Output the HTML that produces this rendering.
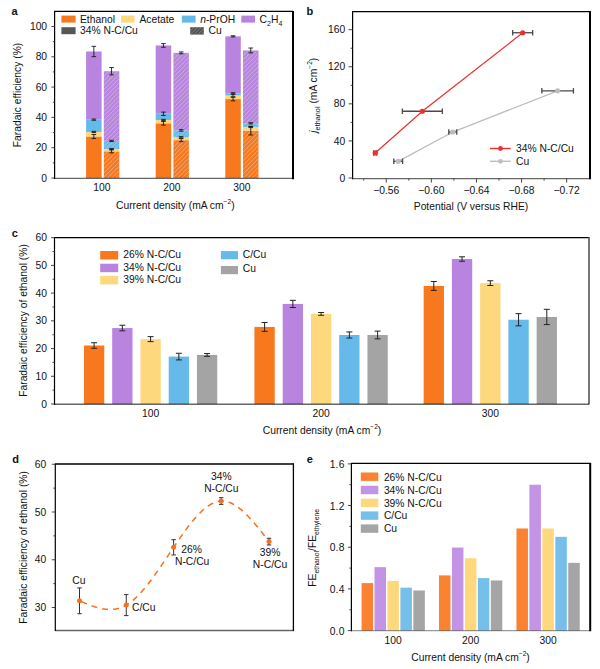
<!DOCTYPE html>
<html><head><meta charset="utf-8"><title>Figure</title>
<style>
html,body{margin:0;padding:0;background:#fff;overflow:hidden;}
svg{display:block;}
text{font-family:"Liberation Sans",Arial,sans-serif;fill:#111;}
</style></head><body>
<svg width="600" height="669" viewBox="0 0 600 669">
<defs>
<pattern id="hatch" patternUnits="userSpaceOnUse" width="3.1" height="3.1" patternTransform="rotate(45)">
<line x1="0" y1="0" x2="0" y2="3.1" stroke="#d8d8d8" stroke-opacity="0.85" stroke-width="0.9"/>
</pattern>
<pattern id="hatch2" patternUnits="userSpaceOnUse" width="2.6" height="2.6" patternTransform="rotate(45)">
<line x1="0" y1="0" x2="0" y2="2.6" stroke="#b0b0b0" stroke-opacity="0.8" stroke-width="1"/>
</pattern>
</defs>
<rect x="86.1" y="136.49" width="15.5" height="41.51" fill="#f8781d" />
<rect x="86.1" y="131.94" width="15.5" height="4.54" fill="#fdd87c" />
<rect x="86.1" y="119.67" width="15.5" height="12.27" fill="#66bae9" />
<rect x="86.1" y="51.5" width="15.5" height="68.18" fill="#b884df" />
<line x1="93.85" y1="134.52" x2="93.85" y2="138.46" stroke="#1a1a1a" stroke-width="0.9" />
<line x1="91.55" y1="134.52" x2="96.15" y2="134.52" stroke="#1a1a1a" stroke-width="0.9" />
<line x1="91.55" y1="138.46" x2="96.15" y2="138.46" stroke="#1a1a1a" stroke-width="0.9" />
<line x1="93.85" y1="131.34" x2="93.85" y2="132.55" stroke="#1a1a1a" stroke-width="0.9" />
<line x1="91.55" y1="131.34" x2="96.15" y2="131.34" stroke="#1a1a1a" stroke-width="0.9" />
<line x1="91.55" y1="132.55" x2="96.15" y2="132.55" stroke="#1a1a1a" stroke-width="0.9" />
<line x1="93.85" y1="119.07" x2="93.85" y2="120.28" stroke="#1a1a1a" stroke-width="0.9" />
<line x1="91.55" y1="119.07" x2="96.15" y2="119.07" stroke="#1a1a1a" stroke-width="0.9" />
<line x1="91.55" y1="120.28" x2="96.15" y2="120.28" stroke="#1a1a1a" stroke-width="0.9" />
<line x1="93.85" y1="46.35" x2="93.85" y2="56.65" stroke="#1a1a1a" stroke-width="0.9" />
<line x1="91.55" y1="46.35" x2="96.15" y2="46.35" stroke="#1a1a1a" stroke-width="0.9" />
<line x1="91.55" y1="56.65" x2="96.15" y2="56.65" stroke="#1a1a1a" stroke-width="0.9" />
<rect x="103.8" y="151.34" width="15.5" height="26.66" fill="#f8781d" />
<rect x="103.8" y="149.06" width="15.5" height="2.27" fill="#fdd87c" />
<rect x="103.8" y="140.88" width="15.5" height="8.18" fill="#66bae9" />
<rect x="103.8" y="71.19" width="15.5" height="69.69" fill="#b884df" />
<rect x="103.8" y="71.19" width="15.5" height="106.81" fill="url(#hatch)" />
<line x1="111.55" y1="149.82" x2="111.55" y2="152.85" stroke="#1a1a1a" stroke-width="0.9" />
<line x1="109.25" y1="149.82" x2="113.85" y2="149.82" stroke="#1a1a1a" stroke-width="0.9" />
<line x1="109.25" y1="152.85" x2="113.85" y2="152.85" stroke="#1a1a1a" stroke-width="0.9" />
<line x1="111.55" y1="148.46" x2="111.55" y2="149.67" stroke="#1a1a1a" stroke-width="0.9" />
<line x1="109.25" y1="148.46" x2="113.85" y2="148.46" stroke="#1a1a1a" stroke-width="0.9" />
<line x1="109.25" y1="149.67" x2="113.85" y2="149.67" stroke="#1a1a1a" stroke-width="0.9" />
<line x1="111.55" y1="140.28" x2="111.55" y2="141.49" stroke="#1a1a1a" stroke-width="0.9" />
<line x1="109.25" y1="140.28" x2="113.85" y2="140.28" stroke="#1a1a1a" stroke-width="0.9" />
<line x1="109.25" y1="141.49" x2="113.85" y2="141.49" stroke="#1a1a1a" stroke-width="0.9" />
<line x1="111.55" y1="67.56" x2="111.55" y2="74.83" stroke="#1a1a1a" stroke-width="0.9" />
<line x1="109.25" y1="67.56" x2="113.85" y2="67.56" stroke="#1a1a1a" stroke-width="0.9" />
<line x1="109.25" y1="74.83" x2="113.85" y2="74.83" stroke="#1a1a1a" stroke-width="0.9" />
<rect x="155.7" y="123.31" width="15.5" height="54.69" fill="#f8781d" />
<rect x="155.7" y="119.98" width="15.5" height="3.33" fill="#fdd87c" />
<rect x="155.7" y="113.76" width="15.5" height="6.21" fill="#66bae9" />
<rect x="155.7" y="45.44" width="15.5" height="68.33" fill="#b884df" />
<line x1="163.45" y1="121.49" x2="163.45" y2="125.13" stroke="#1a1a1a" stroke-width="0.9" />
<line x1="161.15" y1="121.49" x2="165.75" y2="121.49" stroke="#1a1a1a" stroke-width="0.9" />
<line x1="161.15" y1="125.13" x2="165.75" y2="125.13" stroke="#1a1a1a" stroke-width="0.9" />
<line x1="163.45" y1="119.37" x2="163.45" y2="120.58" stroke="#1a1a1a" stroke-width="0.9" />
<line x1="161.15" y1="119.37" x2="165.75" y2="119.37" stroke="#1a1a1a" stroke-width="0.9" />
<line x1="161.15" y1="120.58" x2="165.75" y2="120.58" stroke="#1a1a1a" stroke-width="0.9" />
<line x1="163.45" y1="112.1" x2="163.45" y2="115.43" stroke="#1a1a1a" stroke-width="0.9" />
<line x1="161.15" y1="112.1" x2="165.75" y2="112.1" stroke="#1a1a1a" stroke-width="0.9" />
<line x1="161.15" y1="115.43" x2="165.75" y2="115.43" stroke="#1a1a1a" stroke-width="0.9" />
<line x1="163.45" y1="43.62" x2="163.45" y2="47.26" stroke="#1a1a1a" stroke-width="0.9" />
<line x1="161.15" y1="43.62" x2="165.75" y2="43.62" stroke="#1a1a1a" stroke-width="0.9" />
<line x1="161.15" y1="47.26" x2="165.75" y2="47.26" stroke="#1a1a1a" stroke-width="0.9" />
<rect x="173.4" y="140.12" width="15.5" height="37.88" fill="#f8781d" />
<rect x="173.4" y="137.25" width="15.5" height="2.88" fill="#fdd87c" />
<rect x="173.4" y="130.43" width="15.5" height="6.82" fill="#66bae9" />
<rect x="173.4" y="52.86" width="15.5" height="77.57" fill="#b884df" />
<rect x="173.4" y="52.86" width="15.5" height="125.14" fill="url(#hatch)" />
<line x1="181.15" y1="138.61" x2="181.15" y2="141.64" stroke="#1a1a1a" stroke-width="0.9" />
<line x1="178.85" y1="138.61" x2="183.45" y2="138.61" stroke="#1a1a1a" stroke-width="0.9" />
<line x1="178.85" y1="141.64" x2="183.45" y2="141.64" stroke="#1a1a1a" stroke-width="0.9" />
<line x1="181.15" y1="136.64" x2="181.15" y2="137.85" stroke="#1a1a1a" stroke-width="0.9" />
<line x1="178.85" y1="136.64" x2="183.45" y2="136.64" stroke="#1a1a1a" stroke-width="0.9" />
<line x1="178.85" y1="137.85" x2="183.45" y2="137.85" stroke="#1a1a1a" stroke-width="0.9" />
<line x1="181.15" y1="129.67" x2="181.15" y2="131.19" stroke="#1a1a1a" stroke-width="0.9" />
<line x1="178.85" y1="129.67" x2="183.45" y2="129.67" stroke="#1a1a1a" stroke-width="0.9" />
<line x1="178.85" y1="131.19" x2="183.45" y2="131.19" stroke="#1a1a1a" stroke-width="0.9" />
<line x1="181.15" y1="51.95" x2="181.15" y2="53.77" stroke="#1a1a1a" stroke-width="0.9" />
<line x1="178.85" y1="51.95" x2="183.45" y2="51.95" stroke="#1a1a1a" stroke-width="0.9" />
<line x1="178.85" y1="53.77" x2="183.45" y2="53.77" stroke="#1a1a1a" stroke-width="0.9" />
<rect x="225.3" y="99.07" width="15.5" height="78.93" fill="#f8781d" />
<rect x="225.3" y="95.43" width="15.5" height="3.64" fill="#fdd87c" />
<rect x="225.3" y="93.46" width="15.5" height="1.97" fill="#66bae9" />
<rect x="225.3" y="36.35" width="15.5" height="57.12" fill="#b884df" />
<line x1="233.05" y1="97.25" x2="233.05" y2="100.89" stroke="#1a1a1a" stroke-width="0.9" />
<line x1="230.75" y1="97.25" x2="235.35" y2="97.25" stroke="#1a1a1a" stroke-width="0.9" />
<line x1="230.75" y1="100.89" x2="235.35" y2="100.89" stroke="#1a1a1a" stroke-width="0.9" />
<line x1="233.05" y1="94.07" x2="233.05" y2="96.8" stroke="#1a1a1a" stroke-width="0.9" />
<line x1="230.75" y1="94.07" x2="235.35" y2="94.07" stroke="#1a1a1a" stroke-width="0.9" />
<line x1="230.75" y1="96.8" x2="235.35" y2="96.8" stroke="#1a1a1a" stroke-width="0.9" />
<line x1="233.05" y1="92.71" x2="233.05" y2="94.22" stroke="#1a1a1a" stroke-width="0.9" />
<line x1="230.75" y1="92.71" x2="235.35" y2="92.71" stroke="#1a1a1a" stroke-width="0.9" />
<line x1="230.75" y1="94.22" x2="235.35" y2="94.22" stroke="#1a1a1a" stroke-width="0.9" />
<line x1="233.05" y1="35.74" x2="233.05" y2="36.95" stroke="#1a1a1a" stroke-width="0.9" />
<line x1="230.75" y1="35.74" x2="235.35" y2="35.74" stroke="#1a1a1a" stroke-width="0.9" />
<line x1="230.75" y1="36.95" x2="235.35" y2="36.95" stroke="#1a1a1a" stroke-width="0.9" />
<rect x="243" y="130.73" width="15.5" height="47.27" fill="#f8781d" />
<rect x="243" y="126.94" width="15.5" height="3.79" fill="#fdd87c" />
<rect x="243" y="123.31" width="15.5" height="3.64" fill="#66bae9" />
<rect x="243" y="50.44" width="15.5" height="72.87" fill="#b884df" />
<rect x="243" y="50.44" width="15.5" height="127.56" fill="url(#hatch)" />
<line x1="250.75" y1="126.49" x2="250.75" y2="134.97" stroke="#1a1a1a" stroke-width="0.9" />
<line x1="248.45" y1="126.49" x2="253.05" y2="126.49" stroke="#1a1a1a" stroke-width="0.9" />
<line x1="248.45" y1="134.97" x2="253.05" y2="134.97" stroke="#1a1a1a" stroke-width="0.9" />
<line x1="250.75" y1="126.34" x2="250.75" y2="127.55" stroke="#1a1a1a" stroke-width="0.9" />
<line x1="248.45" y1="126.34" x2="253.05" y2="126.34" stroke="#1a1a1a" stroke-width="0.9" />
<line x1="248.45" y1="127.55" x2="253.05" y2="127.55" stroke="#1a1a1a" stroke-width="0.9" />
<line x1="250.75" y1="122.7" x2="250.75" y2="123.91" stroke="#1a1a1a" stroke-width="0.9" />
<line x1="248.45" y1="122.7" x2="253.05" y2="122.7" stroke="#1a1a1a" stroke-width="0.9" />
<line x1="248.45" y1="123.91" x2="253.05" y2="123.91" stroke="#1a1a1a" stroke-width="0.9" />
<line x1="250.75" y1="48.01" x2="250.75" y2="52.86" stroke="#1a1a1a" stroke-width="0.9" />
<line x1="248.45" y1="48.01" x2="253.05" y2="48.01" stroke="#1a1a1a" stroke-width="0.9" />
<line x1="248.45" y1="52.86" x2="253.05" y2="52.86" stroke="#1a1a1a" stroke-width="0.9" />
<line x1="54.6" y1="11.4" x2="54.6" y2="179" stroke="#000" stroke-width="1.2" />
<line x1="54" y1="11.4" x2="293" y2="11.4" stroke="#000" stroke-width="1.1" />
<line x1="293" y1="10.9" x2="293" y2="179.2" stroke="#000" stroke-width="2" />
<line x1="54.6" y1="178.4" x2="292" y2="178.4" stroke="#000" stroke-width="1.4" stroke-opacity="0.6"/>
<line x1="51.4" y1="178" x2="54.6" y2="178" stroke="#333" stroke-width="0.9" />
<text x="47.1" y="181.5" font-size="10.3" text-anchor="end" >0</text>
<line x1="52.8" y1="162.85" x2="54.6" y2="162.85" stroke="#333" stroke-width="0.9" />
<line x1="51.4" y1="147.7" x2="54.6" y2="147.7" stroke="#333" stroke-width="0.9" />
<text x="47.1" y="151.2" font-size="10.3" text-anchor="end" >20</text>
<line x1="52.8" y1="132.55" x2="54.6" y2="132.55" stroke="#333" stroke-width="0.9" />
<line x1="51.4" y1="117.4" x2="54.6" y2="117.4" stroke="#333" stroke-width="0.9" />
<text x="47.1" y="120.9" font-size="10.3" text-anchor="end" >40</text>
<line x1="52.8" y1="102.25" x2="54.6" y2="102.25" stroke="#333" stroke-width="0.9" />
<line x1="51.4" y1="87.1" x2="54.6" y2="87.1" stroke="#333" stroke-width="0.9" />
<text x="47.1" y="90.6" font-size="10.3" text-anchor="end" >60</text>
<line x1="52.8" y1="71.95" x2="54.6" y2="71.95" stroke="#333" stroke-width="0.9" />
<line x1="51.4" y1="56.8" x2="54.6" y2="56.8" stroke="#333" stroke-width="0.9" />
<text x="47.1" y="60.3" font-size="10.3" text-anchor="end" >80</text>
<line x1="52.8" y1="41.65" x2="54.6" y2="41.65" stroke="#333" stroke-width="0.9" />
<line x1="51.4" y1="26.5" x2="54.6" y2="26.5" stroke="#333" stroke-width="0.9" />
<text x="47.1" y="30" font-size="10.3" text-anchor="end" >100</text>
<text x="101.8" y="190.6" font-size="10.3" text-anchor="middle" >100</text>
<text x="171.85" y="190.6" font-size="10.3" text-anchor="middle" >200</text>
<text x="241.9" y="190.6" font-size="10.3" text-anchor="middle" >300</text>
<text x="175.3" y="209" font-size="10.3" text-anchor="middle" >Current density (mA cm<tspan dy="-5" font-size="6.6">−2</tspan><tspan dy="5">)</tspan></text>
<text transform="translate(21,95) rotate(-90)" font-size="10.3" text-anchor="middle" >Faradaic efficiency (%)</text>
<rect x="61.4" y="15.6" width="14.2" height="7" fill="#f8781d" />
<text x="80" y="22.8" font-size="10.3" >Ethanol</text>
<rect x="121" y="15.6" width="13.6" height="7" fill="#fdd87c" />
<text x="139.4" y="22.8" font-size="10.3" >Acetate</text>
<rect x="181.9" y="15.6" width="13.7" height="7" fill="#66bae9" />
<text x="200.2" y="22.8" font-size="10.3" ><tspan font-style="italic">n</tspan>-PrOH</text>
<rect x="241.3" y="15.6" width="13.7" height="7" fill="#b884df" />
<text x="259.6" y="22.8" font-size="10.3" >C<tspan dy="3" font-size="7">2</tspan><tspan dy="-3">H</tspan><tspan dy="3" font-size="7">4</tspan></text>
<rect x="61.4" y="27.2" width="14.2" height="7" fill="#575757" />
<text x="80" y="34.4" font-size="10.3" >34% N-C/Cu</text>
<rect x="190.2" y="27.2" width="13.6" height="7.4" fill="#505050" />
<rect x="190.2" y="27.2" width="13.6" height="7.4" fill="url(#hatch2)" />
<text x="208.5" y="34.4" font-size="10.3" >Cu</text>
<text x="11.5" y="14.6" font-size="11" font-weight="bold">a</text>
<line x1="352.6" y1="11.1" x2="352.6" y2="179.2" stroke="#000" stroke-width="1.2" />
<line x1="352.6" y1="11.6" x2="590" y2="11.6" stroke="#000" stroke-width="1.1" />
<line x1="590" y1="11.1" x2="590" y2="179.2" stroke="#000" stroke-width="2" />
<line x1="352.6" y1="178.6" x2="590" y2="178.6" stroke="#000" stroke-width="1.4" stroke-opacity="0.6"/>
<line x1="348.6" y1="178" x2="352.6" y2="178" stroke="#333" stroke-width="0.9" />
<text x="345.3" y="181.6" font-size="10.3" text-anchor="end" >0</text>
<line x1="350.6" y1="159.46" x2="352.6" y2="159.46" stroke="#333" stroke-width="0.9" />
<line x1="348.6" y1="140.92" x2="352.6" y2="140.92" stroke="#333" stroke-width="0.9" />
<text x="345.3" y="144.52" font-size="10.3" text-anchor="end" >40</text>
<line x1="350.6" y1="122.38" x2="352.6" y2="122.38" stroke="#333" stroke-width="0.9" />
<line x1="348.6" y1="103.84" x2="352.6" y2="103.84" stroke="#333" stroke-width="0.9" />
<text x="345.3" y="107.44" font-size="10.3" text-anchor="end" >80</text>
<line x1="350.6" y1="85.3" x2="352.6" y2="85.3" stroke="#333" stroke-width="0.9" />
<line x1="348.6" y1="66.76" x2="352.6" y2="66.76" stroke="#333" stroke-width="0.9" />
<text x="345.3" y="70.36" font-size="10.3" text-anchor="end" >120</text>
<line x1="350.6" y1="48.22" x2="352.6" y2="48.22" stroke="#333" stroke-width="0.9" />
<line x1="348.6" y1="29.68" x2="352.6" y2="29.68" stroke="#333" stroke-width="0.9" />
<text x="345.3" y="33.28" font-size="10.3" text-anchor="end" >160</text>
<line x1="363.7" y1="178.6" x2="363.7" y2="180.6" stroke="#333" stroke-width="0.9" />
<line x1="386.25" y1="178.6" x2="386.25" y2="182.6" stroke="#333" stroke-width="0.9" />
<text x="386.25" y="194" font-size="10.3" text-anchor="middle" >−0.56</text>
<line x1="408.8" y1="178.6" x2="408.8" y2="180.6" stroke="#333" stroke-width="0.9" />
<line x1="431.35" y1="178.6" x2="431.35" y2="182.6" stroke="#333" stroke-width="0.9" />
<text x="431.35" y="194" font-size="10.3" text-anchor="middle" >−0.60</text>
<line x1="453.9" y1="178.6" x2="453.9" y2="180.6" stroke="#333" stroke-width="0.9" />
<line x1="476.45" y1="178.6" x2="476.45" y2="182.6" stroke="#333" stroke-width="0.9" />
<text x="476.45" y="194" font-size="10.3" text-anchor="middle" >−0.64</text>
<line x1="499" y1="178.6" x2="499" y2="180.6" stroke="#333" stroke-width="0.9" />
<line x1="521.55" y1="178.6" x2="521.55" y2="182.6" stroke="#333" stroke-width="0.9" />
<text x="521.55" y="194" font-size="10.3" text-anchor="middle" >−0.68</text>
<line x1="544.1" y1="178.6" x2="544.1" y2="180.6" stroke="#333" stroke-width="0.9" />
<line x1="566.65" y1="178.6" x2="566.65" y2="182.6" stroke="#333" stroke-width="0.9" />
<text x="566.65" y="194" font-size="10.3" text-anchor="middle" >−0.72</text>
<polyline fill="none" stroke="#bdbdbd" stroke-width="1.3" points="398.2,161.31 452.77,132.02 557.63,90.86"/>
<line x1="393.8" y1="161.31" x2="402.6" y2="161.31" stroke="#4a4a4a" stroke-width="1.3" />
<line x1="393.8" y1="158.56" x2="393.8" y2="164.06" stroke="#4a4a4a" stroke-width="1.3" />
<line x1="402.6" y1="158.56" x2="402.6" y2="164.06" stroke="#4a4a4a" stroke-width="1.3" />
<line x1="448.77" y1="132.02" x2="456.77" y2="132.02" stroke="#4a4a4a" stroke-width="1.3" />
<line x1="448.77" y1="129.27" x2="448.77" y2="134.77" stroke="#4a4a4a" stroke-width="1.3" />
<line x1="456.77" y1="129.27" x2="456.77" y2="134.77" stroke="#4a4a4a" stroke-width="1.3" />
<line x1="541.83" y1="90.86" x2="573.43" y2="90.86" stroke="#4a4a4a" stroke-width="1.3" />
<line x1="541.83" y1="88.11" x2="541.83" y2="93.61" stroke="#4a4a4a" stroke-width="1.3" />
<line x1="573.43" y1="88.11" x2="573.43" y2="93.61" stroke="#4a4a4a" stroke-width="1.3" />
<circle cx="398.2" cy="161.31" r="2.6" fill="#bdbdbd"/>
<circle cx="452.77" cy="132.02" r="2.6" fill="#bdbdbd"/>
<circle cx="557.63" cy="90.86" r="2.6" fill="#bdbdbd"/>
<polyline fill="none" stroke="#ee2d2d" stroke-width="1.2" points="375.2,152.97 422.33,111.26 522.68,32.74"/>
<line x1="373.7" y1="152.97" x2="376.7" y2="152.97" stroke="#4a4a4a" stroke-width="1.3" />
<line x1="373.7" y1="150.22" x2="373.7" y2="155.72" stroke="#4a4a4a" stroke-width="1.3" />
<line x1="376.7" y1="150.22" x2="376.7" y2="155.72" stroke="#4a4a4a" stroke-width="1.3" />
<line x1="402.33" y1="111.26" x2="442.33" y2="111.26" stroke="#4a4a4a" stroke-width="1.3" />
<line x1="402.33" y1="108.51" x2="402.33" y2="114.01" stroke="#4a4a4a" stroke-width="1.3" />
<line x1="442.33" y1="108.51" x2="442.33" y2="114.01" stroke="#4a4a4a" stroke-width="1.3" />
<line x1="512.68" y1="32.74" x2="532.68" y2="32.74" stroke="#4a4a4a" stroke-width="1.3" />
<line x1="512.68" y1="29.99" x2="512.68" y2="35.49" stroke="#4a4a4a" stroke-width="1.3" />
<line x1="532.68" y1="29.99" x2="532.68" y2="35.49" stroke="#4a4a4a" stroke-width="1.3" />
<circle cx="375.2" cy="152.97" r="2.6" fill="#ee2d2d"/>
<circle cx="422.33" cy="111.26" r="2.6" fill="#ee2d2d"/>
<circle cx="522.68" cy="32.74" r="2.6" fill="#ee2d2d"/>
<line x1="490" y1="148.5" x2="510.7" y2="148.5" stroke="#ee2d2d" stroke-width="1.4" />
<circle cx="500.5" cy="148.5" r="2.4" fill="#ee2d2d"/>
<text x="516" y="152" font-size="10.3" >34% N-C/Cu</text>
<line x1="490" y1="161.3" x2="510.7" y2="161.3" stroke="#bdbdbd" stroke-width="1.4" />
<circle cx="500.5" cy="161.3" r="2.4" fill="#bdbdbd"/>
<text x="516" y="164.8" font-size="10.3" >Cu</text>
<text x="471" y="209.8" font-size="10.3" text-anchor="middle" >Potential (V versus RHE)</text>
<text transform="translate(317,95.2) rotate(-90)" font-size="10.3" text-anchor="middle" ><tspan font-style="italic">j</tspan><tspan font-size="7.3" dy="2.8">ethanol</tspan><tspan dy="-2.8"> (mA cm</tspan><tspan dy="-5" font-size="6.6">−2</tspan><tspan dy="5">)</tspan></text>
<text x="306.5" y="14.6" font-size="11" font-weight="bold">b</text>
<rect x="83.95" y="345.51" width="20.3" height="58.49" fill="#f8781d" />
<rect x="112.2" y="328.05" width="20.3" height="75.95" fill="#b884df" />
<rect x="140.45" y="339.14" width="20.3" height="64.86" fill="#fdd87c" />
<rect x="168.7" y="356.6" width="20.3" height="47.4" fill="#66bae9" />
<rect x="196.95" y="354.94" width="20.3" height="49.06" fill="#a4a4a4" />
<line x1="94.1" y1="342.74" x2="94.1" y2="348.28" stroke="#222" stroke-width="1" />
<line x1="91.1" y1="342.74" x2="97.1" y2="342.74" stroke="#222" stroke-width="1" />
<line x1="91.1" y1="348.28" x2="97.1" y2="348.28" stroke="#222" stroke-width="1" />
<line x1="122.35" y1="325.28" x2="122.35" y2="330.82" stroke="#222" stroke-width="1" />
<line x1="119.35" y1="325.28" x2="125.35" y2="325.28" stroke="#222" stroke-width="1" />
<line x1="119.35" y1="330.82" x2="125.35" y2="330.82" stroke="#222" stroke-width="1" />
<line x1="150.6" y1="336.64" x2="150.6" y2="341.63" stroke="#222" stroke-width="1" />
<line x1="147.6" y1="336.64" x2="153.6" y2="336.64" stroke="#222" stroke-width="1" />
<line x1="147.6" y1="341.63" x2="153.6" y2="341.63" stroke="#222" stroke-width="1" />
<line x1="178.85" y1="353.27" x2="178.85" y2="359.93" stroke="#222" stroke-width="1" />
<line x1="175.85" y1="353.27" x2="181.85" y2="353.27" stroke="#222" stroke-width="1" />
<line x1="175.85" y1="359.93" x2="181.85" y2="359.93" stroke="#222" stroke-width="1" />
<line x1="207.1" y1="353.55" x2="207.1" y2="356.32" stroke="#222" stroke-width="1" />
<line x1="204.1" y1="353.55" x2="210.1" y2="353.55" stroke="#222" stroke-width="1" />
<line x1="204.1" y1="356.32" x2="210.1" y2="356.32" stroke="#222" stroke-width="1" />
<text x="150.6" y="416.6" font-size="10.3" text-anchor="middle" >100</text>
<rect x="254.45" y="326.94" width="20.3" height="77.06" fill="#f8781d" />
<rect x="282.7" y="303.93" width="20.3" height="100.07" fill="#b884df" />
<rect x="310.95" y="313.91" width="20.3" height="90.09" fill="#fdd87c" />
<rect x="339.2" y="334.98" width="20.3" height="69.02" fill="#66bae9" />
<rect x="367.45" y="334.98" width="20.3" height="69.02" fill="#a4a4a4" />
<line x1="264.6" y1="322.5" x2="264.6" y2="331.37" stroke="#222" stroke-width="1" />
<line x1="261.6" y1="322.5" x2="267.6" y2="322.5" stroke="#222" stroke-width="1" />
<line x1="261.6" y1="331.37" x2="267.6" y2="331.37" stroke="#222" stroke-width="1" />
<line x1="292.85" y1="300.33" x2="292.85" y2="307.53" stroke="#222" stroke-width="1" />
<line x1="289.85" y1="300.33" x2="295.85" y2="300.33" stroke="#222" stroke-width="1" />
<line x1="289.85" y1="307.53" x2="295.85" y2="307.53" stroke="#222" stroke-width="1" />
<line x1="321.1" y1="312.52" x2="321.1" y2="315.3" stroke="#222" stroke-width="1" />
<line x1="318.1" y1="312.52" x2="324.1" y2="312.52" stroke="#222" stroke-width="1" />
<line x1="318.1" y1="315.3" x2="324.1" y2="315.3" stroke="#222" stroke-width="1" />
<line x1="349.35" y1="331.93" x2="349.35" y2="338.03" stroke="#222" stroke-width="1" />
<line x1="346.35" y1="331.93" x2="352.35" y2="331.93" stroke="#222" stroke-width="1" />
<line x1="346.35" y1="338.03" x2="352.35" y2="338.03" stroke="#222" stroke-width="1" />
<line x1="377.6" y1="331.1" x2="377.6" y2="338.86" stroke="#222" stroke-width="1" />
<line x1="374.6" y1="331.1" x2="380.6" y2="331.1" stroke="#222" stroke-width="1" />
<line x1="374.6" y1="338.86" x2="380.6" y2="338.86" stroke="#222" stroke-width="1" />
<text x="321.1" y="416.6" font-size="10.3" text-anchor="middle" >200</text>
<rect x="423.65" y="285.91" width="20.3" height="118.09" fill="#f8781d" />
<rect x="451.9" y="259.02" width="20.3" height="144.98" fill="#b884df" />
<rect x="480.15" y="283.14" width="20.3" height="120.86" fill="#fdd87c" />
<rect x="508.4" y="319.73" width="20.3" height="84.27" fill="#66bae9" />
<rect x="536.65" y="316.96" width="20.3" height="87.04" fill="#a4a4a4" />
<line x1="433.8" y1="281.48" x2="433.8" y2="290.35" stroke="#222" stroke-width="1" />
<line x1="430.8" y1="281.48" x2="436.8" y2="281.48" stroke="#222" stroke-width="1" />
<line x1="430.8" y1="290.35" x2="436.8" y2="290.35" stroke="#222" stroke-width="1" />
<line x1="462.05" y1="256.81" x2="462.05" y2="261.24" stroke="#222" stroke-width="1" />
<line x1="459.05" y1="256.81" x2="465.05" y2="256.81" stroke="#222" stroke-width="1" />
<line x1="459.05" y1="261.24" x2="465.05" y2="261.24" stroke="#222" stroke-width="1" />
<line x1="490.3" y1="280.78" x2="490.3" y2="285.5" stroke="#222" stroke-width="1" />
<line x1="487.3" y1="280.78" x2="493.3" y2="280.78" stroke="#222" stroke-width="1" />
<line x1="487.3" y1="285.5" x2="493.3" y2="285.5" stroke="#222" stroke-width="1" />
<line x1="518.55" y1="313.63" x2="518.55" y2="325.83" stroke="#222" stroke-width="1" />
<line x1="515.55" y1="313.63" x2="521.55" y2="313.63" stroke="#222" stroke-width="1" />
<line x1="515.55" y1="325.83" x2="521.55" y2="325.83" stroke="#222" stroke-width="1" />
<line x1="546.8" y1="309.34" x2="546.8" y2="324.58" stroke="#222" stroke-width="1" />
<line x1="543.8" y1="309.34" x2="549.8" y2="309.34" stroke="#222" stroke-width="1" />
<line x1="543.8" y1="324.58" x2="549.8" y2="324.58" stroke="#222" stroke-width="1" />
<text x="490.3" y="416.6" font-size="10.3" text-anchor="middle" >300</text>
<line x1="54.5" y1="237.6" x2="54.5" y2="404.9" stroke="#000" stroke-width="1.2" />
<line x1="54" y1="237.6" x2="589" y2="237.6" stroke="#000" stroke-width="1.1" />
<line x1="589" y1="237.1" x2="589" y2="404.3" stroke="#555" stroke-width="1.6" />
<line x1="54.5" y1="404.3" x2="589" y2="404.3" stroke="#000" stroke-width="1.4" stroke-opacity="0.6"/>
<line x1="51" y1="404" x2="54.5" y2="404" stroke="#333" stroke-width="0.9" />
<text x="47" y="407.5" font-size="10.3" text-anchor="end" >0</text>
<line x1="52.5" y1="390.14" x2="54.5" y2="390.14" stroke="#333" stroke-width="0.9" />
<line x1="51" y1="376.28" x2="54.5" y2="376.28" stroke="#333" stroke-width="0.9" />
<text x="47" y="379.78" font-size="10.3" text-anchor="end" >10</text>
<line x1="52.5" y1="362.42" x2="54.5" y2="362.42" stroke="#333" stroke-width="0.9" />
<line x1="51" y1="348.56" x2="54.5" y2="348.56" stroke="#333" stroke-width="0.9" />
<text x="47" y="352.06" font-size="10.3" text-anchor="end" >20</text>
<line x1="52.5" y1="334.7" x2="54.5" y2="334.7" stroke="#333" stroke-width="0.9" />
<line x1="51" y1="320.84" x2="54.5" y2="320.84" stroke="#333" stroke-width="0.9" />
<text x="47" y="324.34" font-size="10.3" text-anchor="end" >30</text>
<line x1="52.5" y1="306.98" x2="54.5" y2="306.98" stroke="#333" stroke-width="0.9" />
<line x1="51" y1="293.12" x2="54.5" y2="293.12" stroke="#333" stroke-width="0.9" />
<text x="47" y="296.62" font-size="10.3" text-anchor="end" >40</text>
<line x1="52.5" y1="279.26" x2="54.5" y2="279.26" stroke="#333" stroke-width="0.9" />
<line x1="51" y1="265.4" x2="54.5" y2="265.4" stroke="#333" stroke-width="0.9" />
<text x="47" y="268.9" font-size="10.3" text-anchor="end" >50</text>
<line x1="52.5" y1="251.54" x2="54.5" y2="251.54" stroke="#333" stroke-width="0.9" />
<line x1="51" y1="237.68" x2="54.5" y2="237.68" stroke="#333" stroke-width="0.9" />
<text x="47" y="241.18" font-size="10.3" text-anchor="end" >60</text>
<text x="322" y="434.3" font-size="10.3" text-anchor="middle" >Current density (mA cm<tspan dy="-5" font-size="6.6">−2</tspan><tspan dy="5">)</tspan></text>
<text transform="translate(27,320.5) rotate(-90)" font-size="10.3" text-anchor="middle" >Faradaic efficiency of ethanol (%)</text>
<rect x="100.2" y="251" width="18" height="8.5" fill="#f8781d" />
<text x="123.3" y="257.9" font-size="10.3" >26% N-C/Cu</text>
<rect x="100.2" y="263.7" width="18" height="8.5" fill="#b884df" />
<text x="123.3" y="270.6" font-size="10.3" >34% N-C/Cu</text>
<rect x="100.2" y="275.9" width="18" height="8.5" fill="#fdd87c" />
<text x="123.3" y="282.8" font-size="10.3" >39% N-C/Cu</text>
<rect x="220.9" y="251.1" width="17.1" height="8.2" fill="#66bae9" />
<text x="242.8" y="257.5" font-size="10.3" >C/Cu</text>
<rect x="220.9" y="266" width="17.1" height="8.2" fill="#a4a4a4" />
<text x="242.8" y="272.4" font-size="10.3" >Cu</text>
<text x="11.8" y="236.8" font-size="11" font-weight="bold">c</text>
<polyline fill="none" stroke="#f8711a" stroke-width="1.5" stroke-dasharray="6,5" stroke-dashoffset="-2" points="79.5,600.82 80.45,601.22 81.4,601.63 82.36,602.03 83.31,602.43 84.26,602.83 85.21,603.22 86.17,603.61 87.12,604 88.07,604.37 89.02,604.74 89.97,605.11 90.93,605.46 91.88,605.81 92.83,606.14 93.78,606.46 94.74,606.77 95.69,607.07 96.64,607.36 97.59,607.63 98.55,607.88 99.5,608.12 100.45,608.34 101.4,608.55 102.35,608.74 103.31,608.9 104.26,609.05 105.21,609.18 106.16,609.29 107.12,609.37 108.07,609.43 109.02,609.47 109.97,609.48 110.92,609.47 111.88,609.43 112.83,609.36 113.78,609.27 114.73,609.15 115.69,609 116.64,608.81 117.59,608.6 118.54,608.36 119.49,608.08 120.45,607.77 121.4,607.43 122.35,607.05 123.3,606.63 124.26,606.18 125.21,605.69 126.16,605.16 127.11,604.6 128.07,603.99 129.02,603.35 129.97,602.68 130.92,601.96 131.87,601.22 132.83,600.43 133.78,599.62 134.73,598.77 135.68,597.9 136.64,596.99 137.59,596.05 138.54,595.08 139.49,594.09 140.44,593.07 141.4,592.02 142.35,590.95 143.3,589.85 144.25,588.73 145.21,587.59 146.16,586.42 147.11,585.24 148.06,584.03 149.02,582.81 149.97,581.57 150.92,580.3 151.87,579.03 152.82,577.74 153.78,576.43 154.73,575.11 155.68,573.77 156.63,572.43 157.59,571.07 158.54,569.7 159.49,568.32 160.44,566.93 161.39,565.54 162.35,564.14 163.3,562.73 164.25,561.31 165.2,559.9 166.16,558.47 167.11,557.05 168.06,555.62 169.01,554.2 169.96,552.77 170.92,551.34 171.87,549.92 172.82,548.5 173.77,547.08 174.73,545.66 175.68,544.25 176.63,542.85 177.58,541.45 178.54,540.06 179.49,538.68 180.44,537.31 181.39,535.95 182.34,534.6 183.3,533.27 184.25,531.95 185.2,530.64 186.15,529.35 187.11,528.07 188.06,526.82 189.01,525.58 189.96,524.36 190.91,523.16 191.87,521.98 192.82,520.82 193.77,519.69 194.72,518.57 195.68,517.49 196.63,516.43 197.58,515.4 198.53,514.39 199.48,513.42 200.44,512.47 201.39,511.55 202.34,510.67 203.29,509.81 204.25,508.99 205.2,508.21 206.15,507.46 207.1,506.75 208.06,506.07 209.01,505.43 209.96,504.83 210.91,504.27 211.86,503.75 212.82,503.27 213.77,502.84 214.72,502.45 215.67,502.1 216.63,501.8 217.58,501.55 218.53,501.34 219.48,501.18 220.43,501.07 221.39,501.01 222.34,501 223.29,501.04 224.24,501.13 225.2,501.27 226.15,501.45 227.1,501.68 228.05,501.96 229.01,502.27 229.96,502.64 230.91,503.04 231.86,503.48 232.81,503.96 233.77,504.48 234.72,505.04 235.67,505.64 236.62,506.27 237.58,506.93 238.53,507.63 239.48,508.36 240.43,509.13 241.38,509.92 242.34,510.74 243.29,511.59 244.24,512.47 245.19,513.38 246.15,514.31 247.1,515.26 248.05,516.24 249,517.24 249.95,518.26 250.91,519.3 251.86,520.36 252.81,521.44 253.76,522.54 254.72,523.65 255.67,524.78 256.62,525.92 257.57,527.08 258.53,528.25 259.48,529.43 260.43,530.61 261.38,531.81 262.33,533.02 263.29,534.23 264.24,535.45 265.19,536.68 266.14,537.9 267.1,539.14 268.05,540.37 269,541.61"/>
<line x1="79.5" y1="587.92" x2="79.5" y2="613.71" stroke="#333" stroke-width="1" />
<line x1="77.25" y1="587.92" x2="81.75" y2="587.92" stroke="#333" stroke-width="1" />
<line x1="77.25" y1="613.71" x2="81.75" y2="613.71" stroke="#333" stroke-width="1" />
<circle cx="79.5" cy="600.82" r="2.5" fill="#f8711a"/>
<line x1="126.25" y1="594.61" x2="126.25" y2="615.62" stroke="#333" stroke-width="1" />
<line x1="124" y1="594.61" x2="128.5" y2="594.61" stroke="#333" stroke-width="1" />
<line x1="124" y1="615.62" x2="128.5" y2="615.62" stroke="#333" stroke-width="1" />
<circle cx="126.25" cy="605.11" r="2.5" fill="#f8711a"/>
<line x1="173.6" y1="539.69" x2="173.6" y2="554.98" stroke="#333" stroke-width="1" />
<line x1="171.35" y1="539.69" x2="175.85" y2="539.69" stroke="#333" stroke-width="1" />
<line x1="171.35" y1="554.98" x2="175.85" y2="554.98" stroke="#333" stroke-width="1" />
<circle cx="173.6" cy="547.34" r="2.5" fill="#f8711a"/>
<line x1="221.2" y1="497.68" x2="221.2" y2="504.36" stroke="#333" stroke-width="1" />
<line x1="218.95" y1="497.68" x2="223.45" y2="497.68" stroke="#333" stroke-width="1" />
<line x1="218.95" y1="504.36" x2="223.45" y2="504.36" stroke="#333" stroke-width="1" />
<circle cx="221.2" cy="501.02" r="2.5" fill="#f8711a"/>
<line x1="269" y1="538.26" x2="269" y2="544.95" stroke="#333" stroke-width="1" />
<line x1="266.75" y1="538.26" x2="271.25" y2="538.26" stroke="#333" stroke-width="1" />
<line x1="266.75" y1="544.95" x2="271.25" y2="544.95" stroke="#333" stroke-width="1" />
<circle cx="269" cy="541.61" r="2.5" fill="#f8711a"/>
<line x1="55.3" y1="463.9" x2="55.3" y2="631.1" stroke="#000" stroke-width="1.2" />
<line x1="54.8" y1="463.9" x2="293.4" y2="463.9" stroke="#000" stroke-width="1.5" />
<line x1="293.4" y1="463.2" x2="293.4" y2="631.1" stroke="#000" stroke-width="1.3" />
<line x1="55.3" y1="630.5" x2="293.4" y2="630.5" stroke="#000" stroke-width="1.5" stroke-opacity="0.6"/>
<line x1="51.8" y1="607.5" x2="55.3" y2="607.5" stroke="#333" stroke-width="0.9" />
<text x="46.3" y="611" font-size="10.3" text-anchor="end" >30</text>
<line x1="53.3" y1="583.62" x2="55.3" y2="583.62" stroke="#333" stroke-width="0.9" />
<line x1="51.8" y1="559.75" x2="55.3" y2="559.75" stroke="#333" stroke-width="0.9" />
<text x="46.3" y="563.25" font-size="10.3" text-anchor="end" >40</text>
<line x1="53.3" y1="535.88" x2="55.3" y2="535.88" stroke="#333" stroke-width="0.9" />
<line x1="51.8" y1="512" x2="55.3" y2="512" stroke="#333" stroke-width="0.9" />
<text x="46.3" y="515.5" font-size="10.3" text-anchor="end" >50</text>
<line x1="53.3" y1="488.12" x2="55.3" y2="488.12" stroke="#333" stroke-width="0.9" />
<line x1="51.8" y1="464.25" x2="55.3" y2="464.25" stroke="#333" stroke-width="0.9" />
<text x="46.3" y="467.75" font-size="10.3" text-anchor="end" >60</text>
<text transform="translate(26.7,547.4) rotate(-90)" font-size="10.3" text-anchor="middle" >Faradaic efficiency of ethanol (%)</text>
<text x="78.8" y="583.8" font-size="10.3" text-anchor="middle" >Cu</text>
<text x="132" y="611" font-size="10.3" >C/Cu</text>
<text x="181.2" y="552.7" font-size="10.3" >26%</text>
<text x="175" y="564.8" font-size="10.3" >N-C/Cu</text>
<text x="221.3" y="480.2" font-size="10.3" text-anchor="middle" >34%</text>
<text x="221.3" y="492.3" font-size="10.3" text-anchor="middle" >N-C/Cu</text>
<text x="270" y="556" font-size="10.3" text-anchor="middle" >39%</text>
<text x="270" y="567.5" font-size="10.3" text-anchor="middle" >N-C/Cu</text>
<text x="12.2" y="462.8" font-size="11" font-weight="bold">d</text>
<rect x="361.55" y="583.08" width="11.5" height="47.52" fill="#fa8231" />
<rect x="374.5" y="567.14" width="11.5" height="63.46" fill="#c393e5" />
<rect x="387.45" y="580.9" width="11.5" height="49.7" fill="#fdd87c" />
<rect x="400.4" y="587.67" width="11.5" height="42.93" fill="#76bfeb" />
<rect x="413.35" y="590.48" width="11.5" height="40.12" fill="#a5a5a5" />
<text x="393.2" y="643.6" font-size="10.3" text-anchor="middle" >100</text>
<rect x="439" y="575.37" width="11.5" height="55.23" fill="#fa8231" />
<rect x="451.95" y="547.55" width="11.5" height="83.05" fill="#c393e5" />
<rect x="464.9" y="558.29" width="11.5" height="72.31" fill="#fdd87c" />
<rect x="477.85" y="578.08" width="11.5" height="52.52" fill="#76bfeb" />
<rect x="490.8" y="580.48" width="11.5" height="50.12" fill="#a5a5a5" />
<text x="470.65" y="643.6" font-size="10.3" text-anchor="middle" >200</text>
<rect x="516.45" y="528.48" width="11.5" height="102.12" fill="#fa8231" />
<rect x="529.4" y="484.72" width="11.5" height="145.88" fill="#c393e5" />
<rect x="542.35" y="528.48" width="11.5" height="102.12" fill="#fdd87c" />
<rect x="555.3" y="536.82" width="11.5" height="93.78" fill="#76bfeb" />
<rect x="568.25" y="562.87" width="11.5" height="67.73" fill="#a5a5a5" />
<text x="548.1" y="643.6" font-size="10.3" text-anchor="middle" >300</text>
<line x1="351.4" y1="463.4" x2="351.4" y2="631.2" stroke="#000" stroke-width="1.2" />
<line x1="350.9" y1="463.4" x2="590.2" y2="463.4" stroke="#000" stroke-width="1.2" />
<line x1="590.2" y1="462.9" x2="590.2" y2="631.2" stroke="#000" stroke-width="2" />
<line x1="351.4" y1="630.6" x2="590.2" y2="630.6" stroke="#000" stroke-width="1.3" stroke-opacity="0.4"/>
<line x1="347.9" y1="630.6" x2="351.4" y2="630.6" stroke="#333" stroke-width="0.9" />
<text x="344.6" y="634.6" font-size="10.3" text-anchor="end" letter-spacing="0.2">0.0</text>
<line x1="349.4" y1="609.76" x2="351.4" y2="609.76" stroke="#333" stroke-width="0.9" />
<line x1="347.9" y1="588.92" x2="351.4" y2="588.92" stroke="#333" stroke-width="0.9" />
<text x="344.6" y="592.92" font-size="10.3" text-anchor="end" letter-spacing="0.2">0.4</text>
<line x1="349.4" y1="568.08" x2="351.4" y2="568.08" stroke="#333" stroke-width="0.9" />
<line x1="347.9" y1="547.24" x2="351.4" y2="547.24" stroke="#333" stroke-width="0.9" />
<text x="344.6" y="551.24" font-size="10.3" text-anchor="end" letter-spacing="0.2">0.8</text>
<line x1="349.4" y1="526.4" x2="351.4" y2="526.4" stroke="#333" stroke-width="0.9" />
<line x1="347.9" y1="505.56" x2="351.4" y2="505.56" stroke="#333" stroke-width="0.9" />
<text x="344.6" y="509.56" font-size="10.3" text-anchor="end" letter-spacing="0.2">1.2</text>
<line x1="349.4" y1="484.72" x2="351.4" y2="484.72" stroke="#333" stroke-width="0.9" />
<line x1="347.9" y1="463.88" x2="351.4" y2="463.88" stroke="#333" stroke-width="0.9" />
<text x="344.6" y="467.88" font-size="10.3" text-anchor="end" letter-spacing="0.2">1.6</text>
<rect x="360.8" y="472.5" width="17.5" height="8.4" fill="#fa8231" />
<text x="383.9" y="480.5" font-size="10.3" >26% N-C/Cu</text>
<rect x="360.8" y="485.8" width="17.5" height="8.4" fill="#c393e5" />
<text x="383.9" y="493.8" font-size="10.3" >34% N-C/Cu</text>
<rect x="360.8" y="498.7" width="17.5" height="8.4" fill="#fdd87c" />
<text x="383.9" y="506.7" font-size="10.3" >39% N-C/Cu</text>
<rect x="360.8" y="511.4" width="17.5" height="8.4" fill="#76bfeb" />
<text x="383.9" y="519.4" font-size="10.3" >C/Cu</text>
<rect x="360.8" y="524.4" width="17.5" height="8.4" fill="#a5a5a5" />
<text x="383.9" y="532.4" font-size="10.3" >Cu</text>
<text x="470.5" y="661" font-size="10.3" text-anchor="middle" >Current density (mA cm<tspan dy="-5" font-size="6.6">−2</tspan><tspan dy="5">)</tspan></text>
<text transform="translate(316.2,547.8) rotate(-90)" font-size="10.3" text-anchor="middle" >FE<tspan font-size="6.9" dy="2.6">ethanol</tspan><tspan dy="-2.6">/FE</tspan><tspan font-size="6.9" dy="2.6">ethylene</tspan></text>
<text x="306.8" y="462.8" font-size="11" font-weight="bold">e</text>
</svg>
</body></html>
